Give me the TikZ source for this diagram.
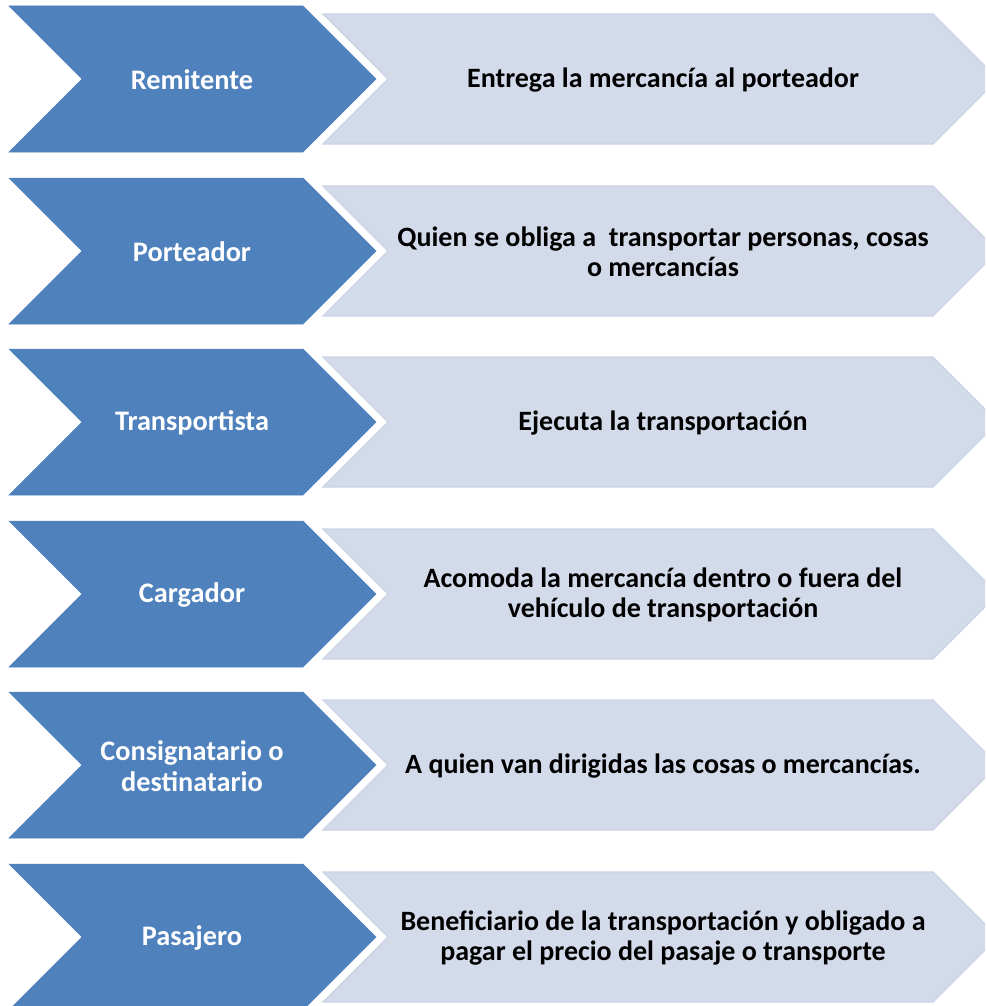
\documentclass[tikz,border=0pt]{standalone}
\usepackage{fontspec}
\setmainfont{Carlito}
\usetikzlibrary{positioning}
\definecolor{azul}{RGB}{79,129,189}
\definecolor{lila}{RGB}{211,218,234}
\definecolor{lilab}{RGB}{203,211,230}
\begin{document}
\begin{tikzpicture}[x=1pt,y=-1pt,
	oscu/.style={fill=azul,draw=azul,line width=0.5pt},
	clar/.style={fill=lila,draw=lilab,line width=1.2pt},
	etiq/.style={text=white,font=\fontsize{28.3}{31}\selectfont\bfseries,align=center},
	desc/.style={text=black,font=\fontsize{28}{30}\selectfont\bfseries,align=center}]
\useasboundingbox (0,0) rectangle (985,1006);
\clip (0,0) rectangle (985,1006);
% fila 1
\draw [clar] (323,14) -- (933,14) -- (998,79) -- (933,144) -- (323,144) -- (388,79) -- cycle;
\draw [oscu] (9,6) -- (303,6) -- (376,79) -- (303,152) -- (9,152) -- (82,79) -- cycle;
\node [etiq] (r1) at (192,80) {Remitente};
\node [desc] (d1) at (663,80) {Entrega la mercancía al porteador};
% fila 2
\draw [clar] (323,186) -- (933,186) -- (998,251) -- (933,316) -- (323,316) -- (388,251) -- cycle;
\draw [oscu] (9,178) -- (303,178) -- (376,251) -- (303,324) -- (9,324) -- (82,251) -- cycle;
\node [etiq] (r2) at (192,252) {Porteador};
\node [desc] (d2) at (663,252) {Quien se obliga a \ transportar personas, cosas\\o mercancías};
% fila 3
\draw [clar] (323,357) -- (933,357) -- (998,422) -- (933,487) -- (323,487) -- (388,422) -- cycle;
\draw [oscu] (9,349) -- (303,349) -- (376,422) -- (303,495) -- (9,495) -- (82,422) -- cycle;
\node [etiq] (r3) at (192,423) {Transportista};
\node [desc] (d3) at (663,423) {Ejecuta la transportación};
% fila 4
\draw [clar] (323,529) -- (933,529) -- (998,594) -- (933,659) -- (323,659) -- (388,594) -- cycle;
\draw [oscu] (9,521) -- (303,521) -- (376,594) -- (303,667) -- (9,667) -- (82,594) -- cycle;
\node [etiq] (r4) at (192,595) {Cargador};
\node [desc] (d4) at (663,595) {Acomoda la mercancía dentro o fuera del\\vehículo de transportación};
% fila 5
\draw [clar] (323,700) -- (933,700) -- (998,765) -- (933,830) -- (323,830) -- (388,765) -- cycle;
\draw [oscu] (9,692) -- (303,692) -- (376,765) -- (303,838) -- (9,838) -- (82,765) -- cycle;
\node [etiq] (r5) at (192,766) {Consignatario o\\destinatario};
\node [desc] (d5) at (663,766) {A quien van dirigidas las cosas o mercancías.};
% fila 6
\draw [clar] (323,872) -- (933,872) -- (998,937) -- (933,1002) -- (323,1002) -- (388,937) -- cycle;
\draw [oscu] (9,864) -- (303,864) -- (376,937) -- (303,1010) -- (9,1010) -- (82,937) -- cycle;
\node [etiq] (r6) at (192,938) {Pasajero};
\node [desc] (d6) at (663,938) {Beneficiario de la transportación y obligado a\\pagar el precio del pasaje o transporte};
\end{tikzpicture}
\end{document}
